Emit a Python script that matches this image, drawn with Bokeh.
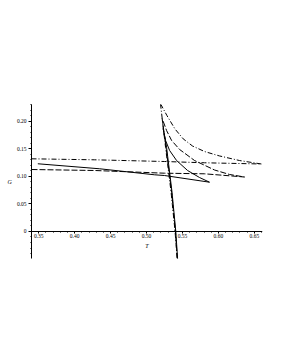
from bokeh.plotting import figure
from bokeh.models import Range1d, FixedTicker
from bokeh.embed import file_html
from bokeh.resources import INLINE

# ---- data ----
# dash-dot curve: lower branch -> right cusp -> upper branch -> steep branch
dashdot_T = [0.3400, 0.4279, 0.5251, 0.5807, 0.6598,
             0.6293, 0.6015, 0.5807, 0.5640, 0.5510, 0.5395, 0.5285, 0.5200, 0.5190,
             0.5265, 0.5342, 0.5397, 0.5425, 0.5432]
dashdot_G = [0.1318, 0.1300, 0.1269, 0.1246, 0.1224,
             0.1287, 0.1370, 0.1450, 0.1550, 0.1680, 0.1860, 0.2100, 0.2303, 0.2360,
             0.1523, 0.0707, 0.0000, -0.0490, -0.0600]

# long-dash curve
dash_T = [0.3400, 0.4279, 0.5251, 0.5807, 0.6363,
          0.6154, 0.5946, 0.5668, 0.5460, 0.5349, 0.5279, 0.5217,
          0.5272, 0.5349, 0.5402, 0.5428, 0.5435]
dash_G = [0.1124, 0.1106, 0.1057, 0.1046, 0.0988,
          0.1034, 0.1115, 0.1287, 0.1487, 0.1650, 0.1831, 0.2049,
          0.1523, 0.0707, 0.0000, -0.0490, -0.0600]

# solid curve
solid_T = [0.3488, 0.4349, 0.5113, 0.5251, 0.5876,
           0.5737, 0.5571, 0.5418, 0.5321, 0.5265, 0.5231,
           0.5279, 0.5355, 0.5407, 0.5432, 0.5440]
solid_G = [0.1228, 0.1137, 0.1028, 0.1015, 0.0894,
           0.0979, 0.1106, 0.1287, 0.1469, 0.1650, 0.1868,
           0.1523, 0.0707, 0.0000, -0.0490, -0.0600]

x_ticks = [0.35, 0.40, 0.45, 0.50, 0.55, 0.60, 0.65]
x_tick_labels = ["0.35", "0.40", "0.45", "0.50", "0.55", "0.60", "0.65"]
y_ticks = [0.0, 0.05, 0.10, 0.15, 0.20]
y_tick_labels = ["0", "0.05", "0.10", "0.15", "0.20"]

FONT = "Liberation Serif"

p = figure(frame_width=231, frame_height=154,
           x_range=Range1d(0.34, 0.6613), y_range=Range1d(-0.0490, 0.2303),
           output_backend="svg", toolbar_location=None,
           min_border_left=31, min_border_top=104, min_border_right=11,
           min_border_bottom=20)
p.outline_line_color = None
p.grid.visible = False
p.background_fill_color = "white"
p.border_fill_color = "white"

p.line(dashdot_T, dashdot_G, line_color="black", line_width=1, line_dash="5 2 1 2")
p.line(dash_T, dash_G, line_color="black", line_width=1, line_dash="6 2")
p.line(solid_T, solid_G, line_color="black", line_width=1)

# x axis crossing at G = 0
xa = p.xaxis[0]
xa.fixed_location = 0
xa.ticker = FixedTicker(ticks=x_ticks,
                        minor_ticks=[round(0.34 + 0.01 * i, 2) for i in range(33)])
xa.major_label_overrides = {t: l for t, l in zip(x_ticks, x_tick_labels)}
xa.axis_label = "T"
xa.axis_label_text_font = FONT
xa.axis_label_text_font_style = "italic"
xa.axis_label_text_font_size = "6px"
xa.axis_label_text_color = "black"
xa.axis_label_standoff = 1
xa.major_label_text_font = FONT
xa.major_label_text_font_size = "5.5px"
xa.major_label_text_color = "black"
xa.major_label_standoff = 1
xa.major_tick_out = 2
xa.major_tick_in = 0
xa.minor_tick_out = 1
xa.minor_tick_in = 0
xa.axis_line_color = "black"
xa.major_tick_line_color = "black"
xa.minor_tick_line_color = "black"

ya = p.yaxis[0]
ya.ticker = FixedTicker(ticks=y_ticks,
                        minor_ticks=[round(-0.04 + 0.01 * i, 2) for i in range(28)])
ya.major_label_overrides = {t: l for t, l in zip(y_ticks, y_tick_labels)}
ya.axis_label = "G"
ya.axis_label_orientation = "horizontal"
ya.axis_label_text_font = FONT
ya.axis_label_text_font_style = "italic"
ya.axis_label_text_font_size = "6px"
ya.axis_label_text_color = "black"
ya.axis_label_standoff = 2
ya.major_label_text_font = FONT
ya.major_label_text_font_size = "5.5px"
ya.major_label_text_color = "black"
ya.major_label_standoff = 2
ya.major_tick_out = 3
ya.major_tick_in = 0
ya.minor_tick_out = 1
ya.minor_tick_in = 0
ya.axis_line_color = "black"
ya.major_tick_line_color = "black"
ya.minor_tick_line_color = "black"

open("out.html", "w").write(file_html(p, INLINE))
